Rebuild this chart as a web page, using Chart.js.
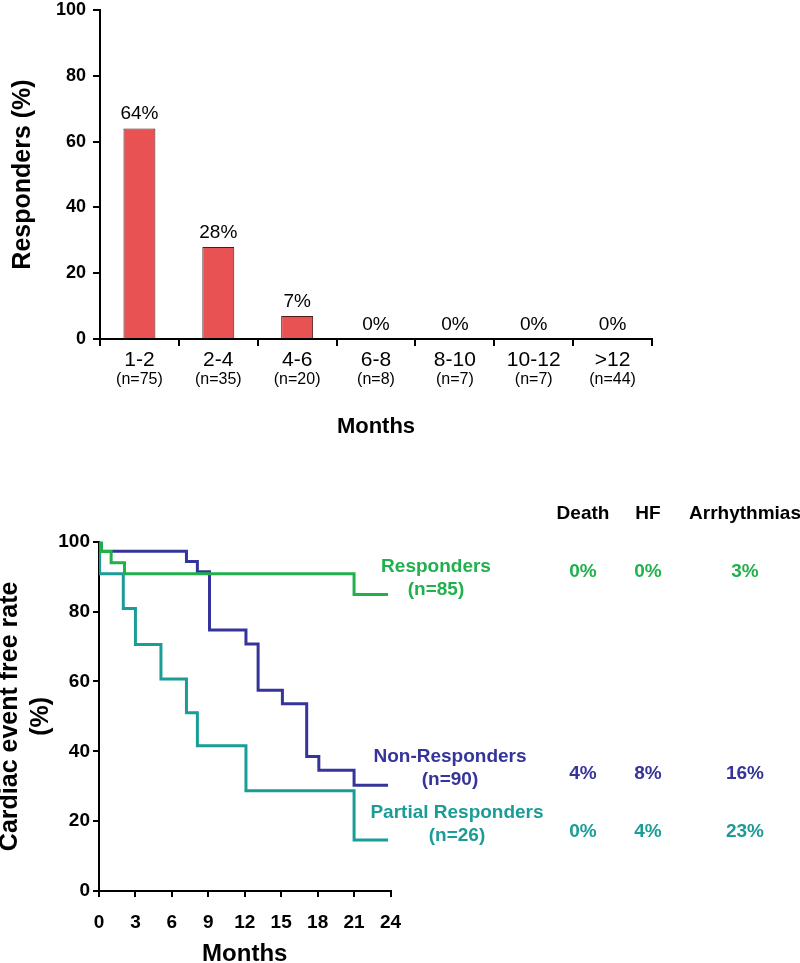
<!DOCTYPE html>
<html>
<head>
<meta charset="utf-8">
<script src="https://cdn.jsdelivr.net/npm/chart.js@4.4.1/dist/chart.umd.min.js"></script>
<style>
html,body{margin:0;padding:0;background:#fff;overflow:hidden;width:800px;height:963px;}
#c1{position:absolute;left:0;top:-6px;}
#c2{position:absolute;left:0;top:470px;}
</style>
</head>
<body>
<canvas id="c1" width="800" height="456"></canvas>
<canvas id="c2" width="800" height="500"></canvas>
<script>
// ---------- DATA ----------
const monthBins = ['1-2', '2-4', '4-6', '6-8', '8-10', '10-12', '>12'];
const binCounts = ['(n=75)', '(n=35)', '(n=20)', '(n=8)', '(n=7)', '(n=7)', '(n=44)'];
const responderPct = [64, 28, 7, 0, 0, 0, 0];

const groupNames = ['Responders', 'Non-Responders', 'Partial Responders'];
const groupN = ['(n=85)', '(n=90)', '(n=26)'];
const eventCols = ['Death', 'HF', 'Arrhythmias'];
const deathPct = [0, 4, 0];
const hfPct = [0, 8, 4];
const arrhythmiaPct = [3, 16, 23];

const respMonths = [0, 0.2, 1.0, 2.1, 21.0, 23.8];
const respRate   = [100, 97.2, 94.0, 90.8, 84.9, 84.9];
const nonMonths  = [0, 0.2, 7.2, 8.1, 9.1, 12.1, 13.1, 15.1, 17.1, 18.1, 21.0, 23.8];
const nonRate    = [100, 97.3, 94.3, 91.4, 74.7, 70.7, 57.5, 53.6, 38.5, 34.6, 30.3, 30.3];
const partMonths = [0, 0.05, 2.0, 3.0, 5.1, 7.2, 8.1, 12.1, 21.0, 23.8];
const partRate   = [100, 90.8, 80.9, 70.6, 60.7, 51.0, 41.6, 28.7, 14.6, 14.6];

// ---------- STYLE ----------
const FONT = "'Liberation Sans', Arial, Helvetica, sans-serif";
const RED = '#e85252';
const GREEN = '#20b04c';
const BLUE = '#34349a';
const TEAL = '#1a9c97';
const groupColors = [GREEN, BLUE, TEAL];

// ---------- TOP CHART ----------
const barLabels = {
  id: 'barLabels',
  afterDatasetsDraw(chart) {
    const ctx = chart.ctx;
    const meta = chart.getDatasetMeta(0);
    ctx.save();
    ctx.font = `19px ${FONT}`;
    ctx.fillStyle = '#000';
    ctx.textAlign = 'center';
    ctx.textBaseline = 'middle';
    meta.data.forEach((bar, i) => {
      ctx.fillText(responderPct[i] + '%', bar.x, bar.y - 14.5);
    });
    ctx.restore();
  }
};

new Chart(document.getElementById('c1'), {
  type: 'bar',
  data: {
    labels: monthBins,
    datasets: [{
      data: responderPct,
      backgroundColor: RED,
      borderColor: '#4a1c1c',
      borderWidth: 1,
      categoryPercentage: 0.405,
      barPercentage: 1,
      xAxisID: 'x'
    }]
  },
  options: {
    responsive: false,
    animation: false,
    events: [],
    layout: { padding: { left: 0, right: 148, top: 0, bottom: 0 } },
    plugins: { legend: { display: false }, tooltip: { enabled: false } },
    scales: {
      x: {
        type: 'category', position: 'bottom', offset: true,
        grid: { display: true, offset: true, drawOnChartArea: false, drawTicks: true, tickLength: 7, color: '#000', lineWidth: 2 },
        border: { display: true, color: '#000', width: 2 },
        ticks: { font: { family: FONT, size: 21 }, color: '#000', padding: 2, maxRotation: 0, autoSkip: false },
        afterFit(s) { s.height = 30; }
      },
      x2: {
        type: 'category', position: 'bottom', labels: binCounts, offset: true,
        grid: { display: false, drawTicks: false },
        border: { display: false },
        ticks: { font: { family: FONT, size: 16 }, color: '#000', padding: 1, maxRotation: 0, autoSkip: false },
        title: { display: true, text: 'Months', color: '#000', font: { family: FONT, size: 22, weight: 'bold' }, padding: { top: 0, bottom: 10 } },
        afterFit(s) { s.height = 81; }
      },
      y: {
        min: 0, max: 100,
        ticks: { stepSize: 20, color: '#000', padding: 7, font: { family: FONT, size: 18, weight: 'bold', lineHeight: 1 } },
        grid: { display: true, drawOnChartArea: false, tickLength: 7, color: '#000', lineWidth: 2 },
        border: { display: true, color: '#000', width: 2 },
        title: { display: true, text: 'Responders (%)', color: '#000', font: { family: FONT, size: 25, weight: 'bold' }, padding: { top: 8, bottom: 0 } },
        afterFit(s) { s.width = 100; }
      }
    }
  },
  plugins: [barLabels]
});

// ---------- BOTTOM CHART ----------
const OFFSET_Y = 470; // canvas top on page
const annot = {
  headerY: 514,
  colX: [583, 648, 745],
  labelX: [436, 450, 457],
  labelY: [567, 757, 813],
  lineGap: 23,
  valueY: [572, 774, 832]
};
const tableText = {
  id: 'tableText',
  afterDraw(chart) {
    const ctx = chart.ctx;
    ctx.save();
    ctx.textAlign = 'center';
    ctx.textBaseline = 'middle';
    ctx.font = `bold 19px ${FONT}`;
    ctx.fillStyle = '#000';
    eventCols.forEach((c, j) => ctx.fillText(c, annot.colX[j], annot.headerY - OFFSET_Y));
    const cols = [deathPct, hfPct, arrhythmiaPct];
    groupNames.forEach((g, i) => {
      ctx.fillStyle = groupColors[i];
      ctx.fillText(g, annot.labelX[i], annot.labelY[i] - OFFSET_Y);
      ctx.fillText(groupN[i], annot.labelX[i], annot.labelY[i] + annot.lineGap - OFFSET_Y);
      cols.forEach((arr, j) => ctx.fillText(arr[i] + '%', annot.colX[j], annot.valueY[i] - OFFSET_Y));
    });
    ctx.restore();
  }
};

function pts(ts, vs) { return ts.map((t, i) => ({ x: t, y: vs[i] })); }

new Chart(document.getElementById('c2'), {
  type: 'line',
  data: {
    datasets: [
      { label: groupNames[0], data: pts(respMonths, respRate), borderColor: GREEN, borderWidth: 3, stepped: true, pointRadius: 0, fill: false },
      { label: groupNames[1], data: pts(nonMonths, nonRate), borderColor: BLUE, borderWidth: 3, stepped: true, pointRadius: 0, fill: false },
      { label: groupNames[2], data: pts(partMonths, partRate), borderColor: TEAL, borderWidth: 3, stepped: true, pointRadius: 0, fill: false }
    ]
  },
  options: {
    responsive: false,
    animation: false,
    events: [],
    layout: { padding: { left: 0, right: 409.5, top: 71.7, bottom: 0 } },
    plugins: { legend: { display: false }, tooltip: { enabled: false } },
    scales: {
      x: {
        type: 'linear', min: 0, max: 24,
        ticks: { stepSize: 3, color: '#000', padding: 14, font: { family: FONT, size: 19, weight: 'bold' } },
        grid: { display: true, drawOnChartArea: false, tickLength: 6, color: '#000', lineWidth: 2 },
        border: { display: true, color: '#000', width: 2 },
        title: { display: true, text: 'Months', color: '#000', font: { family: FONT, size: 24, weight: 'bold' }, padding: { top: 0, bottom: 1 } },
        afterFit(s) { s.height = 79; }
      },
      y: {
        min: 0, max: 100,
        ticks: { stepSize: 20, color: '#000', padding: 3, font: { family: FONT, size: 19, weight: 'bold' } },
        grid: { display: true, drawOnChartArea: false, tickLength: 6, color: '#000', lineWidth: 2 },
        border: { display: true, color: '#000', width: 2 },
        title: { display: true, text: ['Cardiac event free rate', '(%)'], color: '#000', font: { family: FONT, size: 25, weight: 'bold', lineHeight: 1.25 }, padding: { top: -5.6, bottom: 0 } },
        afterFit(s) { s.width = 99; }
      }
    }
  },
  plugins: [tableText]
});
</script>
</body>
</html>
